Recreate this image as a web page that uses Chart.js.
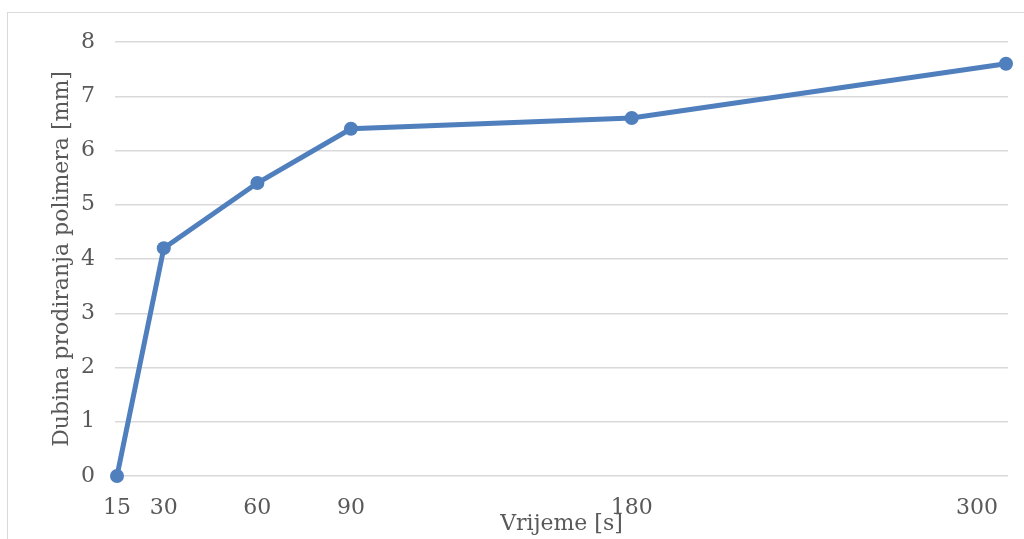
<!DOCTYPE html>
<html>
<head>
<meta charset="utf-8">
<script src="https://cdn.jsdelivr.net/npm/chart.js@4"></script>
<style>
    html, body { margin: 0; padding: 0; background: #fff; }
    #wrap { position: relative; width: 1024px; height: 539px; overflow: hidden; }
    #frame { position: absolute; left: 7px; top: 12px; width: 1040px; height: 560px; border: 1.5px solid #d9d9d9; }
    #chart { position: absolute; left: 0; top: 0; }
</style>
</head>
<body>
<div id="wrap">
    <div id="frame"></div>
    <canvas id="chart" width="1024" height="539"></canvas>
</div>
<script>
// Vrijeme [s] vs dubina prodiranja [mm]
const times = [15, 30, 60, 90, 180, 300];
const depths = [0, 4.2, 5.4, 6.4, 6.6, 7.6];
const yTicks = [0, 1, 2, 3, 4, 5, 6, 7, 8];

const blue = '#4f7fbd';
const textColor = '#595959';
const font = { family: "'DejaVu Serif', serif", size: 22 };

// x tick labels drawn under each measured time; last one kept inside the frame
const timeLabels = {
    id: 'timeLabels',
    afterDraw(chart) {
        const ctx = chart.ctx;
        const xs = chart.scales.x;
        const area = chart.chartArea;
        ctx.save();
        ctx.font = font.size + 'px ' + font.family;
        ctx.fillStyle = textColor;
        ctx.textAlign = 'center';
        ctx.textBaseline = 'middle';
        times.forEach(t => {
            const text = String(t);
            const w = ctx.measureText(text).width;
            let px = xs.getPixelForValue(t);
            px = Math.min(px, area.right - 10 - w / 2);
            ctx.fillText(text, px, area.bottom + 32);
        });
        ctx.restore();
    }
};

new Chart(document.getElementById('chart'), {
    type: 'line',
    data: {
        datasets: [{
            data: times.map((t, i) => ({ x: t, y: depths[i] })),
            borderColor: blue,
            backgroundColor: blue,
            borderWidth: 5,
            pointRadius: 7,
            pointBorderWidth: 0,
            pointHoverRadius: 7,
            tension: 0,
            clip: false
        }]
    },
    options: {
        responsive: false,
        animation: false,
        layout: { padding: { top: 42, right: 16, left: 0, bottom: 0 } },
        plugins: { legend: { display: false }, tooltip: { enabled: false } },
        scales: {
            x: {
                type: 'linear',
                min: 14.36,
                max: 300.64,
                afterBuildTicks: function(scale) {
                    scale.ticks = times.map(v => ({ value: v }));
                },
                afterFit: function(scale) {
                    scale.height = 63;
                    scale.paddingLeft = 0;
                    scale.paddingRight = 0;
                },
                border: { display: false },
                grid: { display: false },
                ticks: { display: false },
                title: {
                    display: true,
                    text: 'Vrijeme [s]',
                    color: textColor,
                    font: font,
                    padding: { top: 0, bottom: 2 }
                }
            },
            y: {
                min: 0,
                max: 8,
                afterBuildTicks: function(scale) {
                    scale.ticks = yTicks.map(v => ({ value: v }));
                },
                afterFit: function(scale) { scale.width = 115; },
                border: { display: false },
                grid: { color: '#d9d9d9', lineWidth: 1.5, drawTicks: false },
                ticks: { color: textColor, font: font, padding: 20 },
                title: {
                    display: true,
                    text: 'Dubina prodiranja polimera [mm]',
                    color: textColor,
                    font: font,
                    padding: { top: 49, bottom: 0 }
                }
            }
        }
    },
    plugins: [timeLabels]
});
</script>
</body>
</html>
